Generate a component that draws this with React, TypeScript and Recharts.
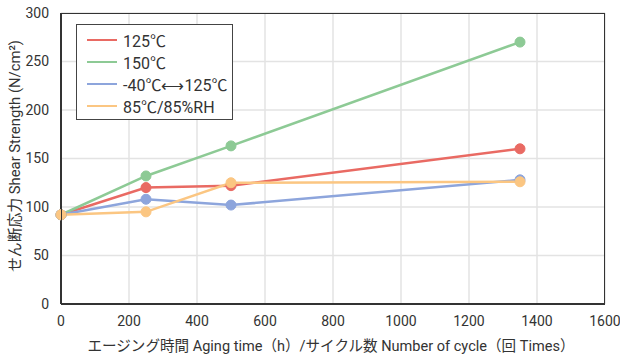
import React from 'react';
import {
  LineChart,
  Line,
  XAxis,
  YAxis,
  CartesianGrid,
  Label,
} from 'recharts';

const cycles = [0, 250, 500, 1350];
const temp125 = [92, 120, 122, 160];
const temp150 = [92, 132, 163, 270];
const thermalCycle = [92, 108, 102, 128];
const humidity = [92, 95, 125, 126];

const xTicks = [0, 200, 400, 600, 800, 1000, 1200, 1400, 1600];
const yTicks = [0, 50, 100, 150, 200, 250, 300];

const seriesNames = ['125℃', '150℃', '-40℃⟷125℃', '85℃/85%RH'];
const seriesColors = ['#e96a63', '#8dca95', '#8da5dc', '#fbc682'];

const data = cycles.map((c, i) => ({
  cycle: c,
  s0: temp125[i],
  s1: temp150[i],
  s2: thermalCycle[i],
  s3: humidity[i],
}));

const font = 'Roboto, "Noto Sans CJK JP", sans-serif';
const textColor = '#333';

function LegendBox() {
  return (
    <div
      style={{
        position: 'absolute',
        left: 76,
        top: 24,
        width: 157,
        height: 96,
        boxSizing: 'border-box',
        border: '1px solid #444',
        background: '#fff',
        padding: '4px 0 0 10px',
        pointerEvents: 'none',
      }}
    >
      {seriesNames.map((name, i) => (
        <div
          key={name}
          style={{ display: 'flex', alignItems: 'center', height: 22, fontSize: 16, color: textColor }}
        >
          <div style={{ width: 30, height: 2, background: seriesColors[i], marginRight: 6 }} />
          <span style={{ fontFamily: font }}>{name}</span>
        </div>
      ))}
    </div>
  );
}

export default function App() {
  return (
    <div style={{ position: 'absolute', left: 0, top: 0, width: 620, height: 361, background: '#fff', fontFamily: font }}>
      <LineChart
        width={620}
        height={361}
        data={data}
        margin={{ top: 13, right: 15, bottom: 27, left: 22 }}
      >
        <CartesianGrid stroke="#e3e3e3" strokeWidth={1.5} />
        <XAxis
          dataKey="cycle"
          type="number"
          domain={[0, 1600]}
          ticks={xTicks}
          tickLine={false}
          axisLine={{ stroke: '#333', strokeWidth: 2 }}
          tick={{ fill: textColor, fontSize: 14, fontFamily: font }}
          tickMargin={6}
          height={30}
        >
          <Label
            content={({ viewBox }: any) => (
              <text
                x={viewBox.x + viewBox.width / 2 - 2}
                y={351}
                textAnchor="middle"
                fill={textColor}
                fontSize={15}
                fontFamily={font}
                textLength={487}
                lengthAdjust="spacingAndGlyphs"
              >
                エージング時間  Aging time（h）/サイクル数  Number of cycle（回 Times）
              </text>
            )}
          />
        </XAxis>
        <YAxis
          type="number"
          domain={[0, 300]}
          ticks={yTicks}
          tickLine={false}
          axisLine={{ stroke: '#333', strokeWidth: 2 }}
          tick={{ fill: textColor, fontSize: 14, fontFamily: font }}
          tickMargin={6}
          width={39}
        >
          <Label
            content={() => (
              <text
                x={20}
                y={156}
                transform="rotate(-90 20 156)"
                textAnchor="middle"
                fill={textColor}
                fontSize={15}
                fontFamily={font}
                textLength={232}
                lengthAdjust="spacingAndGlyphs"
              >
                せん断応力 Shear Strength (N/cm²)
              </text>
            )}
          />
        </YAxis>
        {['s0', 's1', 's2', 's3'].map((key, i) => (
          <Line
            key={key}
            dataKey={key}
            name={seriesNames[i]}
            stroke={seriesColors[i]}
            strokeWidth={2.5}
            dot={{ r: 5, fill: seriesColors[i], stroke: seriesColors[i], strokeWidth: 1 }}
            isAnimationActive={false}
          />
        ))}
      </LineChart>
      <div
        style={{
          position: 'absolute',
          left: 61,
          top: 13,
          width: 544,
          height: 291,
          border: '1px solid #333',
          boxSizing: 'border-box',
          pointerEvents: 'none',
        }}
      />
      <LegendBox />
    </div>
  );
}
